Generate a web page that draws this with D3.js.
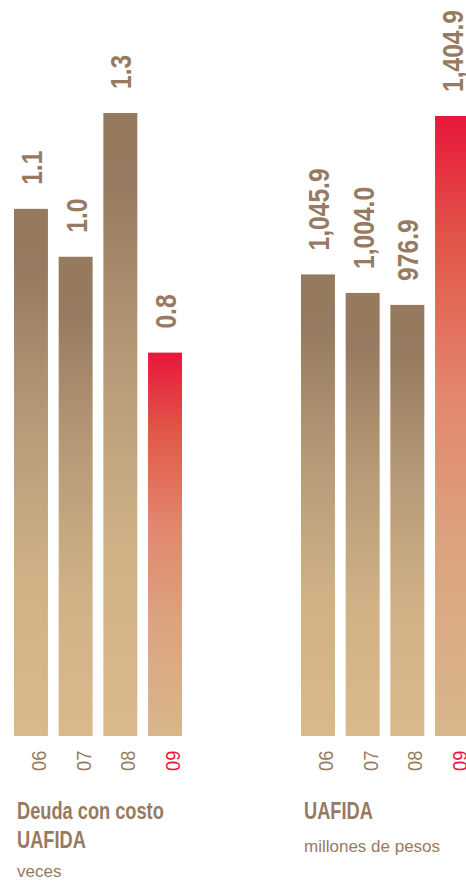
<!DOCTYPE html>
<html><head><meta charset="utf-8">
<script src="https://cdn.jsdelivr.net/npm/d3@7"></script>
<style>
html,body{margin:0;padding:0;background:#fff;}
svg{display:block;}
text{font-family:"Liberation Sans",Arial,sans-serif;}
</style></head>
<body>
<svg id="chart" width="466" height="882"></svg>
<script>
const years = ["06","07","08","09"];
const deudaValues = [1.1, 1.0, 1.3, 0.8];
const deudaLabels = ["1.1","1.0","1.3","0.8"];
const uafidaValues = [1045.9, 1004.0, 976.9, 1404.9];
const uafidaLabels = ["1,045.9","1,004.0","976.9","1,404.9"];
const highlightYear = "09";

const svg = d3.select("#chart");
const brown = "#977a5f";
const red = "#e8173a";

const defs = svg.append("defs");
const gBrown = defs.append("linearGradient").attr("id","gBrown").attr("x1",0).attr("y1",0).attr("x2",0).attr("y2",1);
[[0,"#957a5e"],[0.12,"#977b60"],[0.4,"#b69a77"],[0.7,"#d0b186"],[1,"#d9b98c"]].forEach(([o,c])=>gBrown.append("stop").attr("offset",o).attr("stop-color",c));
const gRed = defs.append("linearGradient").attr("id","gRed").attr("x1",0).attr("y1",0).attr("x2",0).attr("y2",1);
[[0,"#e8173a"],[0.2,"#e15649"],[0.45,"#e3866e"],[0.7,"#dba37e"],[1,"#d8b68c"]].forEach(([o,c])=>gRed.append("stop").attr("offset",o).attr("stop-color",c));

const baseY = 736;

function panel(x0, x1, values, labels, yScale, title, subtitle) {
  const x = d3.scaleBand().domain(years).range([x0, x1]).paddingInner(0.24).paddingOuter(0);
  const g = svg.append("g");
  const data = years.map((yr,i)=>({yr, v: values[i], lab: labels[i]}));
  g.selectAll("rect").data(data).join("rect")
    .attr("x", d=>x(d.yr))
    .attr("y", d=>yScale(d.v))
    .attr("width", x.bandwidth())
    .attr("height", d=>baseY - yScale(d.v))
    .attr("fill", d=> d.yr===highlightYear ? "url(#gRed)" : "url(#gBrown)");
  g.selectAll("text.val").data(data).join("text")
    .attr("class","val")
    .attr("transform", d=>`translate(${x(d.yr)+x.bandwidth()/2+11},${yScale(d.v)-24}) rotate(-90) scale(0.82,1)`)
    .attr("font-size", 30).attr("font-weight","bold")
    .attr("fill", brown)
    .text(d=>d.lab);
  const axis = d3.axisBottom(x).tickSize(0).tickPadding(0);
  const ag = g.append("g").attr("transform",`translate(0,${baseY})`).call(axis);
  ag.select(".domain").remove();
  ag.selectAll(".tick text")
    .attr("transform", `translate(${x.bandwidth()/2-2},35) rotate(-90) scale(0.87,1)`)
    .attr("x",0).attr("y",0).attr("dy",0)
    .attr("text-anchor","start")
    .attr("font-size", 21)
    .attr("font-family", '"Liberation Sans",Arial,sans-serif')
    .attr("fill", d=> d===highlightYear ? red : brown);
  title.forEach((t,i)=>{
    g.append("text").attr("transform",`translate(${x0+3},${819+29*i}) scale(0.76,1)`)
      .attr("font-size",24).attr("font-weight","bold").attr("fill",brown).text(t);
  });
  g.append("text").attr("x", x0+3).attr("y", subtitle[1]).attr("font-size",17).attr("fill",brown).text(subtitle[0]);
}

const yL = d3.scaleLinear().domain([0, 1.3]).range([baseY, 113]);
const yR = d3.scaleLinear().domain([0, 1404.9]).range([baseY, 116]);
panel(14, 182, deudaValues, deudaLabels, yL, ["Deuda con costo","UAFIDA"], ["veces", 877]);
panel(301, 469, uafidaValues, uafidaLabels, yR, ["UAFIDA"], ["millones de pesos", 852]);
</script>
</body></html>
